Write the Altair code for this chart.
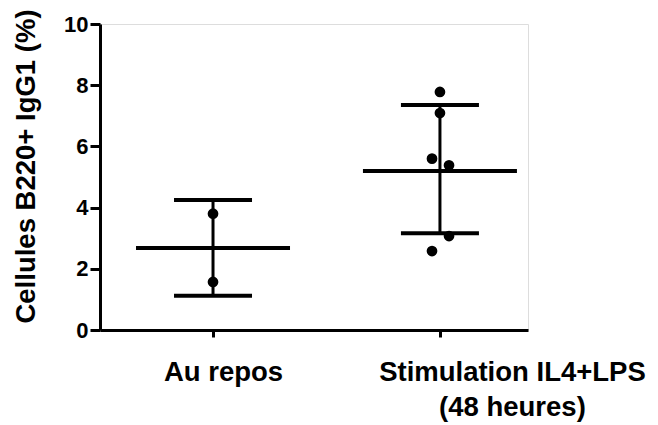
import altair as alt
import pandas as pd

# ---- data ----
groups = ["Au repos", "Stimulation IL4+LPS (48 heures)"]
group_pos = [1, 2]
means = [2.68, 5.20]
upper = [4.25, 7.35]
lower = [1.12, 3.16]

pt_group = [1, 1, 2, 2, 2, 2, 2, 2]
pt_x = [1.0, 1.0, 2.0, 2.0, 1.965, 2.04, 2.04, 1.965]
pt_y = [3.8, 1.57, 7.78, 7.09, 5.6, 5.38, 3.07, 2.58]

summary = pd.DataFrame({"group": groups, "x": group_pos, "mean": means,
                        "upper": upper, "lower": lower})
points = pd.DataFrame({"g": pt_group, "x": pt_x, "y": pt_y})

FONT = "Liberation Sans"
xscale = alt.Scale(domain=[0.502, 2.388], nice=False, zero=False)
yscale = alt.Scale(domain=[0, 10], nice=False)

xaxis = alt.Axis(values=[1, 2], title=None, grid=False,
                 labelExpr="datum.value == 1 ? 'Au repos' : ['Stimulation IL4+LPS', '(48 heures)']",
                 labelFont=FONT, labelFontSize=27.5, labelFontWeight="bold", labelColor="black",
                 labelPadding=21, labelLineHeight=35, labelLimit=500,
                 labelOffset={"condition": {"test": "datum.value == 2", "value": 72}, "value": 10},
                 domainColor="black", domainWidth=3, tickColor="black", tickWidth=3, tickSize=7,
                 labelFlush=False, labelOverlap=False)
yaxis = alt.Axis(values=[0, 2, 4, 6, 8, 10], title="Cellules B220+ IgG1 (%)", grid=False,
                 labelFont=FONT, labelFontSize=22, labelFontWeight="bold", labelColor="black",
                 labelPadding=2, domainColor="black", domainWidth=3, tickColor="black",
                 tickWidth=3, tickSize=10,
                 titleFont=FONT, titleFontSize=27.5, titleFontWeight="bold", titleColor="black",
                 titleX=-74, titleY=142, titleBaseline="middle", titleAngle=270)

base = alt.Chart(summary)
err = base.mark_rule(color="black", strokeWidth=3, opacity=1).encode(
    x=alt.X("x:Q", scale=xscale, axis=xaxis),
    y=alt.Y("lower:Q", scale=yscale, axis=yaxis),
    y2="upper:Q")
cap_hi = base.mark_tick(color="black", opacity=1, orient="horizontal", size=78, thickness=4).encode(
    x=alt.X("x:Q", scale=xscale), y=alt.Y("upper:Q", scale=yscale))
cap_lo = base.mark_tick(color="black", opacity=1, orient="horizontal", size=78, thickness=4).encode(
    x=alt.X("x:Q", scale=xscale), y=alt.Y("lower:Q", scale=yscale))
mean_line = base.mark_tick(color="black", opacity=1, orient="horizontal", size=154, thickness=4).encode(
    x=alt.X("x:Q", scale=xscale), y=alt.Y("mean:Q", scale=yscale))
dots = alt.Chart(points).mark_circle(color="black", opacity=1, size=115).encode(
    x=alt.X("x:Q", scale=xscale), y=alt.Y("y:Q", scale=yscale))

chart = alt.layer(err, cap_hi, cap_lo, mean_line, dots).properties(
    width=428, height=306,
    autosize=alt.AutoSizeParams(type="none"),
    padding={"left": 92, "top": 16, "right": 122, "bottom": 95},
).configure_view(stroke=None).configure(background="white")

chart.save("out.html", embed_options={"renderer": "svg", "actions": False})
